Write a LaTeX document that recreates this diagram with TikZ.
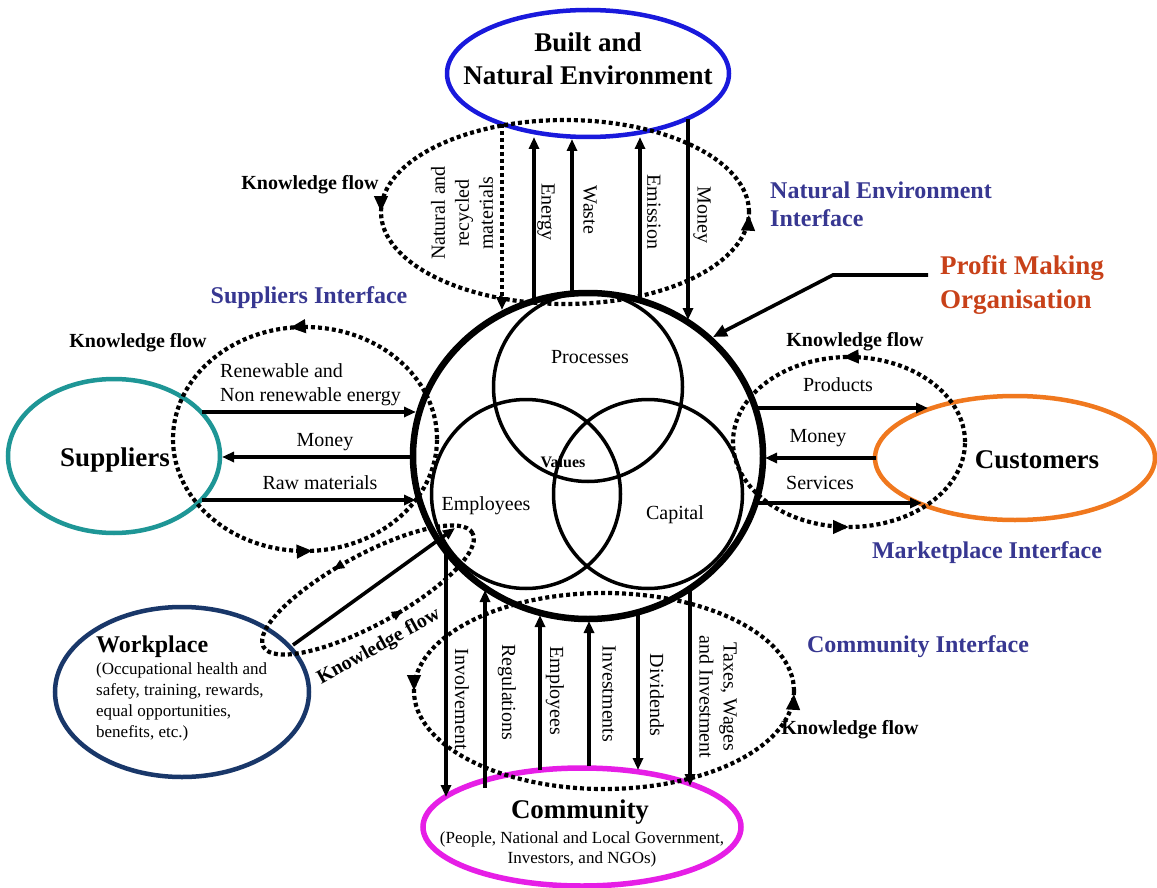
\documentclass[tikz,border=0pt]{standalone}
\usepackage{fontspec}
\setmainfont{Liberation Serif}
\usetikzlibrary{arrows.meta,decorations.markings,shapes.geometric}
\definecolor{envblue}{RGB}{25,25,220}
\definecolor{suppteal}{RGB}{30,150,150}
\definecolor{custorange}{RGB}{240,120,30}
\definecolor{wpnavy}{RGB}{25,55,105}
\definecolor{commag}{RGB}{230,30,230}
\definecolor{ifblue}{RGB}{55,55,145}
\definecolor{profitred}{RGB}{200,65,25}
\tikzset{
  flow/.style={line width=3.6pt,-{Triangle[length=12pt,width=10pt]}},
  kf/.style={line width=4.2pt,dash pattern=on 4pt off 3pt},
  kfmarks/.style 2 args={postaction={decorate},decoration={markings,
     mark=at position #1 with {\arrow{Triangle[length=16pt,width=13pt]}},
     mark=at position #2 with {\arrow{Triangle[length=16pt,width=13pt]}}}},
  smallmarks/.style 2 args={postaction={decorate},decoration={markings,
     mark=at position #1 with {\arrow{Triangle[length=11pt,width=9pt]}},
     mark=at position #2 with {\arrow{Triangle[length=11pt,width=9pt]}}}},
  ring/.style={draw,ellipse,inner sep=0pt,line width=4.5pt},
  venn/.style={draw,circle,inner sep=0pt,line width=3.5pt,minimum size=189pt},
  lbl/.style={inner sep=0pt,font=\fontsize{20}{24}\selectfont},
  kflbl/.style={inner sep=0pt,font=\bfseries\fontsize{20}{24}\selectfont},
  biglbl/.style={inner sep=0pt,align=center,font=\bfseries\fontsize{27}{33}\selectfont},
  iface/.style={inner sep=0pt,text=ifblue,align=left,font=\bfseries\fontsize{24}{28}\selectfont},
  sublbl/.style={inner sep=0pt,font=\fontsize{17}{20}\selectfont},
}
\begin{document}
\begin{tikzpicture}[x=1pt,y=-1pt]
\useasboundingbox[fill=white] (0,0) rectangle (1157,888);

% ---- main organisation and Venn circles
\node[draw,ellipse,inner sep=0pt,line width=6.5pt,minimum width=350pt,minimum height=326pt] (org) at (588,456) {};
\node[venn] (proc) at (588,387) {};
\node[venn] (emp) at (526,494) {};
\node[venn] (cap) at (648,494) {};
\node[lbl] (proclbl) at (590,357) {Processes};
\node[inner sep=0pt,font=\bfseries\fontsize{16}{18}\selectfont] (vallbl) at (563,462) {Values};
\node[lbl] (emplbl) at (486,506) {Employees};
\node[lbl] (caplbl) at (675,515) {Capital};

% ---- stakeholder ellipses
\node[ring,draw=envblue,minimum width=282pt,minimum height=127pt] (env) at (588,73.5) {};
\node[biglbl] (envlbl) at (588,58.5) {Built and\\Natural Environment};
\node[ring,draw=suppteal,minimum width=212pt,minimum height=154pt] (sup) at (114,456) {};
\node[biglbl] (suplbl) at (115,460) {Suppliers};
\node[ring,draw=custorange,minimum width=280pt,minimum height=124pt] (cust) at (1015,458) {};
\node[biglbl] (custlbl) at (1037,460) {Customers};
\node[ring,draw=wpnavy,minimum width=254pt,minimum height=170pt] (wp) at (182,692) {};
\node[inner sep=0pt,anchor=west,font=\bfseries\fontsize{24}{28}\selectfont] (wplbl) at (96,647) {Workplace};
\node[inner sep=0pt,font=\fontsize{17}{21}\selectfont,anchor=north west,align=left] (wpsub) at (96,662) {(Occupational health and\\safety, training, rewards,\\equal opportunities,\\benefits, etc.)};
\node[ring,draw=commag,line width=5.5pt,minimum width=318pt,minimum height=118pt] (com) at (582,827) {};
\node[biglbl] (comlbl) at (580,812) {Community};
\node[sublbl,align=center] (comsub) at (582,849) {(People, National and Local Government,\\Investors, and NGOs)};

% ---- interface labels
\node[iface,anchor=west] (neif) at (770,204) {Natural Environment\\Interface};
\node[iface] (supif) at (309,298) {Suppliers Interface};
\node[iface] (mktif) at (987,553) {Marketplace Interface};
\node[iface] (comif) at (918,647) {Community Interface};
\node[inner sep=0pt,anchor=west,align=left,text=profitred,font=\bfseries\fontsize{27}{34}\selectfont] (profit) at (940,285) {Profit Making\\Organisation};

% ---- knowledge flow loops
\draw[kf,kfmarks={0.5}{0.997}] (565,212) ellipse [x radius=184pt,y radius=92pt];
\draw[kf,kfmarks={0.27}{0.76}] (305,439) ellipse [x radius=132pt,y radius=112pt];
\draw[kf,kfmarks={0.26}{0.75}] (849,442) ellipse [x radius=116pt,y radius=85pt];
\draw[kf,kfmarks={0.5}{0.997}] (604,691) ellipse [x radius=190pt,y radius=98pt];
\begin{scope}[shift={(368,590)},rotate=28.5]
\draw[kf,smallmarks={0.29}{0.79}] (0,0) ellipse [x radius=119pt,y radius=35pt];
\end{scope}
\node[kflbl] (kftop) at (310,185) {Knowledge flow};
\node[kflbl] (kfleft) at (138,343) {Knowledge flow};
\node[kflbl] (kfright) at (855,342) {Knowledge flow};
\node[kflbl] (kfbot) at (850,730) {Knowledge flow};
\node[kflbl,rotate=29] (kfwp) at (379,647) {Knowledge flow};

% ---- natural environment interface flows
\coordinate (nrA) at (502,124); \coordinate (nrB) at (502,310);
\coordinate (enA) at (534,301); \coordinate (enB) at (534,137);
\coordinate (waA) at (572,294); \coordinate (waB) at (572,139);
\coordinate (emA) at (640,300); \coordinate (emB) at (640,137);
\coordinate (moA) at (688,119); \coordinate (moB) at (688,320);
\draw[kf,-{Triangle[length=13pt,width=11pt]}] (nrA) -- (nrB);
\draw[flow] (enA) -- (enB);
\draw[flow] (waA) -- (waB);
\draw[flow] (emA) -- (emB);
\draw[flow] (moA) -- (moB);
\node[lbl,rotate=90,align=center] (nrlbl) at (462,213) {Natural and\\recycled\\materials};
\node[lbl,rotate=-90] (enlbl) at (546,212) {Energy};
\node[lbl,rotate=-90] (walbl) at (590,210) {Waste};
\node[lbl,rotate=-90] (emlbl) at (654,212) {Emission};
\node[lbl,rotate=-90] (molbl) at (702,215) {Money};

% ---- suppliers interface flows
\coordinate (s1A) at (202,412); \coordinate (s1B) at (416,412);
\coordinate (s2A) at (413,457); \coordinate (s2B) at (222,457);
\coordinate (s3A) at (202,500); \coordinate (s3B) at (416,500);
\draw[flow] (s1A) -- (s1B);
\draw[flow] (s2A) -- (s2B);
\draw[flow] (s3A) -- (s3B);
\node[lbl,anchor=west,align=left] (s1lbl) at (220,384.5) {Renewable and\\Non renewable energy};
\node[lbl] (s2lbl) at (325,442) {Money};
\node[lbl] (s3lbl) at (320,483) {Raw materials};

% ---- marketplace interface flows
\coordinate (c1A) at (756,408); \coordinate (c1B) at (928,408);
\coordinate (c2A) at (876,458); \coordinate (c2B) at (765,458);
\coordinate (c3A) at (757,503); \coordinate (c3B) at (922,503);
\draw[flow] (c1A) -- (c1B);
\draw[flow] (c2A) -- (c2B);
\draw[flow] (c3A) -- (c3B);
\node[lbl] (c1lbl) at (838,385) {Products};
\node[lbl] (c2lbl) at (818,438) {Money};
\node[lbl] (c3lbl) at (820,483) {Services};

% ---- community interface flows
\coordinate (b1A) at (446,551); \coordinate (b1B) at (446,797);
\coordinate (b2A) at (485,788); \coordinate (b2B) at (485,590);
\coordinate (b3A) at (540,770); \coordinate (b3B) at (540,615);
\coordinate (b4A) at (589,766); \coordinate (b4B) at (589,621);
\coordinate (b5A) at (638,612); \coordinate (b5B) at (638,770);
\coordinate (b6A) at (690,589); \coordinate (b6B) at (690,786);
\draw[flow] (b1A) -- (b1B);
\draw[flow] (b2A) -- (b2B);
\draw[flow] (b3A) -- (b3B);
\draw[flow] (b4A) -- (b4B);
\draw[flow] (b5A) -- (b5B);
\draw[flow] (b6A) -- (b6B);
\node[lbl,rotate=-90] (b1lbl) at (462,699) {Involvement};
\node[lbl,rotate=-90] (b2lbl) at (507,692) {Regulations};
\node[lbl,rotate=-90] (b3lbl) at (555,691) {Employees};
\node[lbl,rotate=-90] (b4lbl) at (609,694) {Investments};
\node[lbl,rotate=-90] (b5lbl) at (657,695) {Dividends};
\node[lbl,rotate=-90,align=center] (b6lbl) at (718,697) {Taxes, Wages\\and Investment};

% ---- workplace flow
\coordinate (wA) at (293,645); \coordinate (wB) at (455,528);
\draw[flow] (wA) -- (wB);

% ---- profit pointer
\coordinate (pA) at (928,275); \coordinate (pM) at (833,275); \coordinate (pB) at (713,337);
\draw[line width=3.6pt,-{Triangle[length=14pt,width=12pt]}] (pA) -- (pM) -- (pB);
\end{tikzpicture}
\end{document}
